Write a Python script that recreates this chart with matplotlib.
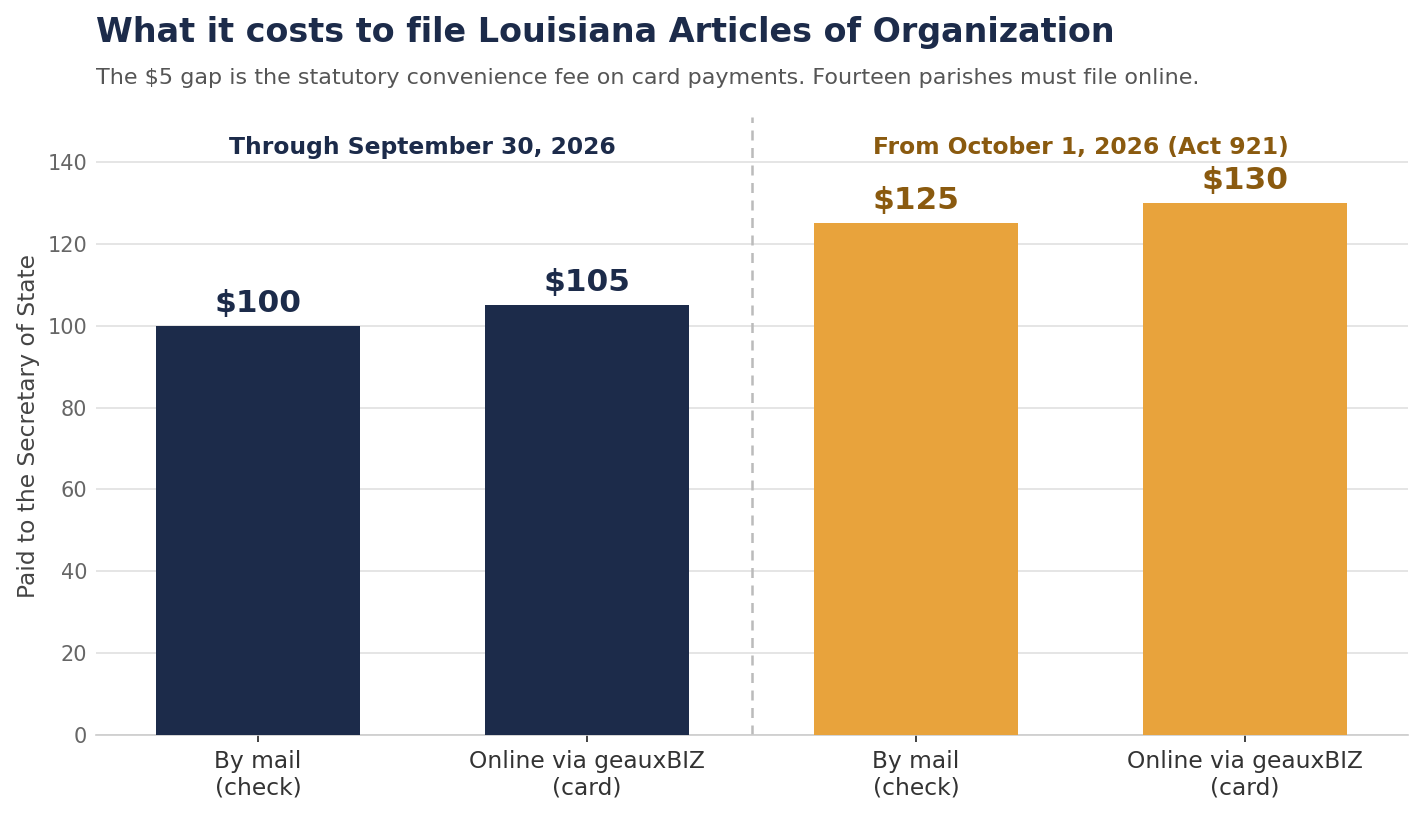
import matplotlib.pyplot as plt

# data
labels = ["By mail\n(check)", "Online via geauxBIZ\n(card)",
          "By mail\n(check)", "Online via geauxBIZ\n(card)"]
fees = [100, 105, 125, 130]
periods = ["Through September 30, 2026", "From October 1, 2026 (Act 921)"]

navy = "#1c2b4a"
orange = "#e8a33c"
brown = "#8a5a0f"
bar_colors = [navy, navy, orange, orange]
text_colors = [navy, navy, brown, brown]

fig = plt.figure(figsize=(14.23, 8.16), dpi=100)
ax = fig.add_axes([0.0675, 0.0993, 0.922, 0.7573])

xs = list(range(len(fees)))
ax.bar(xs, fees, width=0.62, color=bar_colors, zorder=3)

for x, v, c in zip(xs, fees, text_colors):
    ax.text(x, v + 2.0, f"${v}", ha="center", va="bottom",
            fontsize=22.5, fontweight="bold", color=c)

ax.set_xlim(-0.4924, 3.4954)
ax.set_ylim(0, 151)
ax.set_yticks(range(0, 141, 20))
ax.set_xticks(xs)
ax.set_xticklabels(labels, fontsize=16.8, color="#333333")
ax.tick_params(axis="y", length=0, labelsize=15, labelcolor="#666666", pad=6.5)
ax.tick_params(axis="x", length=5, width=1.2, color="#222222", pad=6)

ax.grid(axis="y", color="#e3e3e3", linewidth=1.3, zorder=0)
ax.set_axisbelow(True)
for side in ["top", "right", "left"]:
    ax.spines[side].set_visible(False)
ax.spines["bottom"].set_color("#cccccc")
ax.spines["bottom"].set_linewidth(1.2)

ax.axvline(1.5, color="#bbbbbb", linestyle=(0, (4, 3)), linewidth=1.8, zorder=2)

ax.text(0.5, 143.5, periods[0], ha="center", va="center",
        fontsize=16.8, fontweight="bold", color=navy)
ax.text(2.5, 143.5, periods[1], ha="center", va="center",
        fontsize=16.8, fontweight="bold", color=brown)

ax.set_ylabel("Paid to the Secretary of State", fontsize=16.8, color="#444444", labelpad=5)

fig.text(0.0675, 0.960, "What it costs to file Louisiana Articles of Organization",
         fontsize=24, fontweight="bold", color=navy, ha="left", va="center")
fig.text(0.0675, 0.904,
         "The $5 gap is the statutory convenience fee on card payments. Fourteen parishes must file online.",
         fontsize=16, color="#555555", ha="left", va="center")

fig.savefig("out.png", dpi=100)
